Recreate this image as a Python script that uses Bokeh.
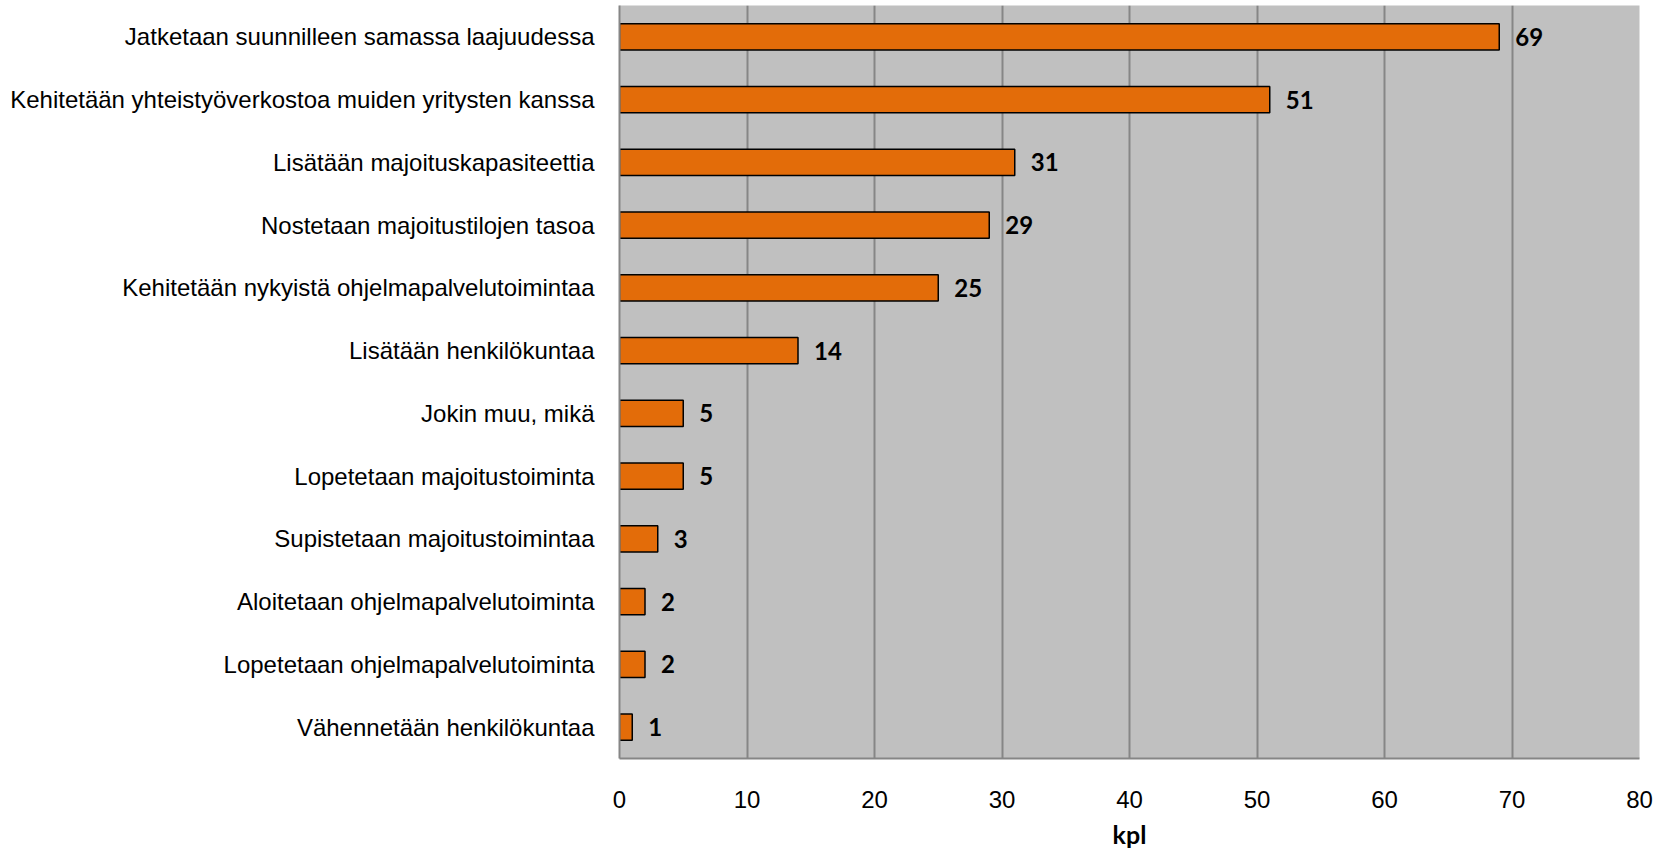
from bokeh.plotting import figure
from bokeh.models import FixedTicker, Range1d, FactorRange, ColumnDataSource
from bokeh.core.properties import value
from bokeh.embed import file_html
from bokeh.resources import INLINE

categories = [
    "Jatketaan suunnilleen samassa laajuudessa",
    "Kehitetään yhteistyöverkostoa muiden yritysten kanssa",
    "Lisätään majoituskapasiteettia",
    "Nostetaan majoitustilojen tasoa",
    "Kehitetään nykyistä ohjelmapalvelutoimintaa",
    "Lisätään henkilökuntaa",
    "Jokin muu, mikä",
    "Lopetetaan majoitustoiminta",
    "Supistetaan majoitustoimintaa",
    "Aloitetaan ohjelmapalvelutoiminta",
    "Lopetetaan ohjelmapalvelutoiminta",
    "Vähennetään henkilökuntaa",
]
values = [69, 51, 31, 29, 25, 14, 5, 5, 3, 2, 2, 1]
x_ticks = [0, 10, 20, 30, 40, 50, 60, 70, 80]
x_label = "kpl"

src = ColumnDataSource(dict(cat=categories, val=values, lab=[str(v) for v in values]))

p = figure(
    width=1660, height=852,
    y_range=FactorRange(factors=list(reversed(categories)), range_padding=0),
    x_range=Range1d(0, 80),
    output_backend="svg", toolbar_location=None,
    min_border_left=619, min_border_right=21, min_border_top=5, min_border_bottom=94,
)
p.background_fill_color = "#C0C0C0"
p.outline_line_color = None
p.y_range.range_padding = 0

p.hbar(y="cat", right="val", left=0, height=0.42, source=src,
       fill_color="#E36C09", line_color="black", line_width=1.5)

p.text(x="val", y="cat", text="lab", source=src, x_offset=16,
       text_baseline="middle", text_align="left",
       text_font=value("Lato"), text_font_style="bold",
       text_font_size="24px", text_color="black")

p.xaxis.ticker = FixedTicker(ticks=x_ticks)
p.xaxis.axis_label = x_label
p.xaxis.axis_label_text_font = "Lato"
p.xaxis.axis_label_text_font_style = "bold"
p.xaxis.axis_label_text_font_size = "25px"
p.xaxis.axis_label_text_color = "black"
p.xaxis.axis_label_standoff = 8
p.xaxis.major_label_text_font = "Liberation Sans"
p.xaxis.major_label_text_font_size = "24px"
p.xaxis.major_label_text_color = "black"
p.xaxis.major_label_standoff = 26
p.xaxis.major_tick_line_color = None
p.xaxis.minor_tick_line_color = None
p.xaxis.axis_line_color = "#868686"
p.xaxis.axis_line_width = 2

p.yaxis.major_label_text_font = "Liberation Sans"
p.yaxis.major_label_text_font_size = "24px"
p.yaxis.major_label_text_color = "black"
p.yaxis.major_label_standoff = 19
p.yaxis.major_tick_line_color = None
p.yaxis.minor_tick_line_color = None
p.yaxis.axis_line_color = "#868686"
p.yaxis.axis_line_width = 2

p.xgrid.grid_line_color = "#868686"
p.xgrid.grid_line_width = 2
p.ygrid.grid_line_color = None

open("out.html", "w").write(file_html(p, INLINE))
